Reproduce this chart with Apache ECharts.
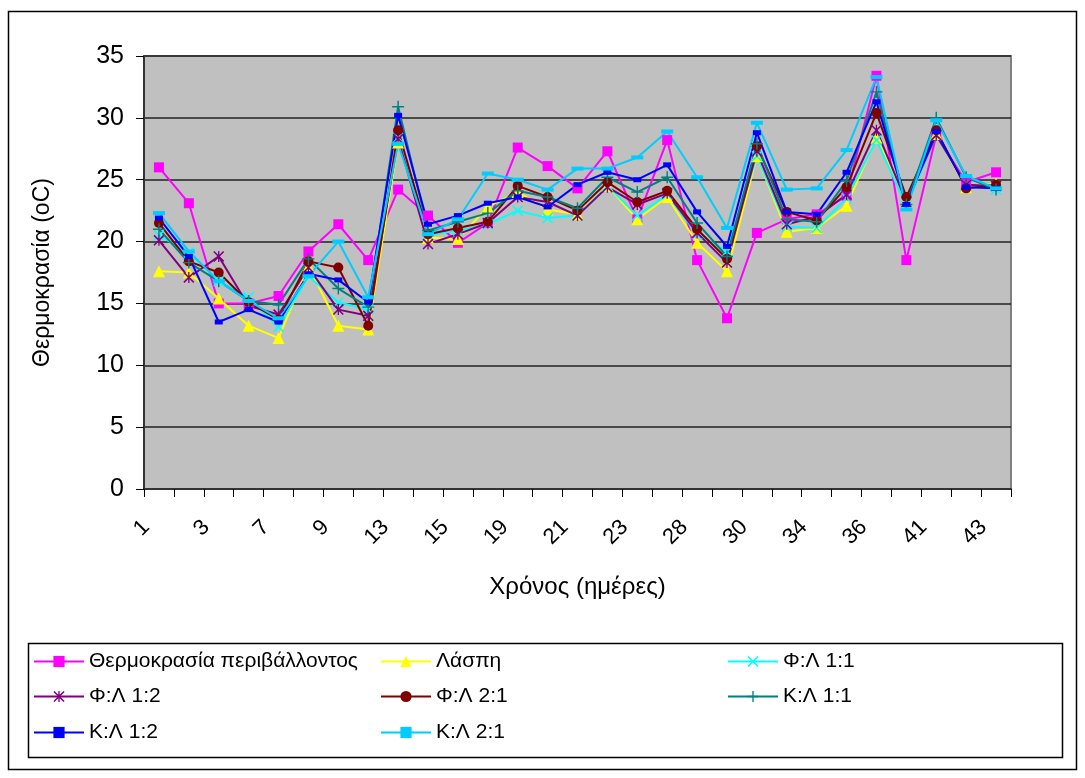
<!DOCTYPE html>
<html>
<head>
<meta charset="utf-8">
<script src="https://cdn.jsdelivr.net/npm/echarts@6.0.0/dist/echarts.min.js"></script>
<style>
  html, body { margin: 0; padding: 0; background: #fff; }
  #chart { width: 1085px; height: 778px; }
</style>
</head>
<body>
<div id="chart"></div>
<script>
// days (only every other one is labelled on the axis)
const days = ['1', '2', '3', '5', '7', '8', '9', '12', '13', '14', '15', '16', '19', '20', '21',
    '22', '23', '27', '28', '29', '30', '33', '34', '35', '36', '40', '41', '42', '43']

const ambient = [26.0, 23.1, 15.0, 15.0, 15.6, 19.2, 21.4, 18.5, 24.2, 22.1, 19.9, 21.5, 27.6, 26.1, 24.3,
    27.3, 21.8, 28.2, 18.5, 13.8, 20.7, 21.8, 22.2, 23.7, 33.4, 18.5, 28.6, 24.8, 25.6]
const sludge = [17.6, 17.5, 15.4, 13.2, 12.2, 18.0, 13.2, 12.9, 28.0, 20.3, 20.2, 22.8, 24.0, 22.6, 22.2,
    24.5, 21.8, 23.6, 19.9, 17.6, 26.9, 20.8, 21.1, 22.9, 28.4, 23.2, 28.7, 24.4, 24.7]
const fl11 = [20.5, 19.1, 16.8, 15.5, 13.1, 17.2, 15.1, 14.5, 28.4, 20.5, 20.9, 21.4, 22.5, 21.9, 22.1,
    24.5, 22.1, 23.8, 20.6, 19.2, 26.9, 21.2, 21.1, 23.5, 28.2, 22.9, 28.6, 24.6, 24.2]
const fl12 = [20.1, 17.1, 18.8, 14.8, 14.1, 17.9, 14.5, 14.0, 28.3, 19.8, 20.6, 21.5, 23.6, 23.2, 22.1,
    24.4, 23.0, 23.9, 20.7, 18.3, 27.3, 21.4, 22.0, 23.8, 29.0, 23.2, 28.6, 24.6, 24.5]
const fl21 = [21.5, 18.4, 17.5, 15.1, 13.7, 18.4, 17.9, 13.2, 29.0, 20.6, 21.1, 21.6, 24.5, 23.6, 22.5,
    24.8, 23.2, 24.1, 21.0, 18.6, 27.7, 22.4, 21.7, 24.4, 30.4, 23.6, 29.0, 24.3, 24.6]
const kl11 = [21.0, 18.3, 16.8, 15.2, 14.9, 18.6, 16.2, 14.7, 30.9, 20.9, 21.6, 22.3, 24.1, 23.6, 22.7,
    25.2, 24.0, 25.2, 21.5, 18.8, 27.9, 21.8, 21.6, 24.9, 32.1, 23.0, 30.0, 25.2, 24.2]
const kl12 = [21.9, 18.8, 13.5, 14.5, 13.5, 17.4, 16.9, 15.1, 30.2, 21.4, 22.1, 23.1, 23.6, 22.8, 24.6,
    25.6, 25.0, 26.2, 22.4, 19.6, 28.8, 22.4, 22.2, 25.6, 31.3, 23.0, 28.9, 24.4, 24.3]
const kl21 = [22.3, 19.2, 16.8, 15.2, 13.8, 17.2, 20.0, 15.5, 27.9, 20.6, 21.8, 25.5, 25.0, 24.2, 25.9,
    25.9, 26.8, 28.9, 25.2, 21.1, 29.6, 24.2, 24.3, 27.4, 33.3, 22.6, 29.8, 25.3, 24.3]

const FONT = "'Liberation Sans', Arial, sans-serif"

// marker shapes that echarts does not ship
const crossX = 'path://M0,1L1,0L10,9L9,10Z M9,0L10,1L1,10L0,9Z'
const star = 'path://M0,1L1,0L10,9L9,10Z M9,0L10,1L1,10L0,9Z M4.4,0H5.6V10H4.4Z'
const plus = 'path://M4.4,0H5.6V10H4.4Z M0,4.4H10V5.6H0Z'

const seriesDefs = [
    { name: 'Θερμοκρασία περιβάλλοντος', data: ambient, color: '#FF00FF', symbol: 'rect', size: 10 },
    { name: 'Λάσπη', data: sludge, color: '#FFFF00', symbol: 'triangle', size: 12 },
    { name: 'Φ:Λ 1:1', data: fl11, color: '#00FFFF', symbol: crossX, size: 11 },
    { name: 'Φ:Λ 1:2', data: fl12, color: '#800080', symbol: star, size: 11 },
    { name: 'Φ:Λ 2:1', data: fl21, color: '#800000', symbol: 'circle', size: 10 },
    { name: 'Κ:Λ 1:1', data: kl11, color: '#008080', symbol: plus, size: 12 },
    { name: 'Κ:Λ 1:2', data: kl12, color: '#0000FF', symbol: 'rect', size: [8, 5] },
    { name: 'Κ:Λ 2:1', data: kl21, color: '#00CCFF', symbol: 'rect', size: [12, 4] },
]

// legend laid out in three columns, three rows
const legendCols = [33, 380, 727]
const legendRows = [651, 686, 722]

const legends = seriesDefs.map((s, i) => ({
    data: [s.name],
    left: legendCols[i % 3],
    top: legendRows[Math.floor(i / 3)],
    orient: 'horizontal',
    padding: 0,
    itemWidth: 50,
    itemHeight: 14,
    selectedMode: false,
    textStyle: { fontFamily: FONT, fontSize: 21, color: '#000' },
}))

const chart = echarts.init(document.getElementById('chart'), null, { renderer: 'canvas' })

chart.setOption({
    animation: false,
    backgroundColor: '#fff',
    textStyle: { fontFamily: FONT },
    graphic: [
        {
            type: 'rect',
            shape: { x: 8.5, y: 11.5, width: 1068, height: 758 },
            style: { fill: 'none', stroke: '#000', lineWidth: 1.5 },
            silent: true,
        },
        {
            type: 'rect',
            shape: { x: 28.5, y: 643.5, width: 1034, height: 114 },
            style: { fill: 'none', stroke: '#000', lineWidth: 1.5 },
            silent: true,
        },
    ],
    legend: legends,
    grid: {
        left: 144,
        right: 74,
        top: 56,
        bottom: 289,
        show: true,
        backgroundColor: '#C0C0C0',
        borderColor: '#808080',
        borderWidth: 2,
    },
    xAxis: {
        type: 'category',
        data: days,
        boundaryGap: true,
        name: 'Χρόνος (ημέρες)',
        nameLocation: 'middle',
        nameGap: 86,
        nameTextStyle: { fontSize: 24, color: '#000', fontFamily: FONT },
        axisLine: { show: true, lineStyle: { color: '#333', width: 2 } },
        axisTick: { show: true, interval: 0, length: 8, lineStyle: { color: '#000' } },
        axisLabel: {
            interval: 1,
            rotate: 45,
            margin: 22,
            padding: [0, 18, 0, 0],
            fontSize: 22,
            color: '#000',
            fontFamily: FONT,
        },
        splitLine: { show: false },
    },
    yAxis: {
        type: 'value',
        min: 0,
        max: 35,
        interval: 5,
        name: 'Θερμοκρασία (oC)',
        nameLocation: 'middle',
        nameRotate: 90,
        nameGap: 90,
        nameTextStyle: { fontSize: 23, color: '#000', fontFamily: FONT },
        axisLine: { show: true, lineStyle: { color: '#333', width: 2 } },
        axisTick: { show: true, length: 8, lineStyle: { color: '#000' } },
        axisLabel: { margin: 20, fontSize: 25, color: '#000', fontFamily: FONT },
        splitLine: { show: true, lineStyle: { color: '#222', width: 1.5 } },
    },
    series: seriesDefs.map((s) => ({
        name: s.name,
        type: 'line',
        data: s.data,
        symbol: s.symbol,
        symbolSize: s.size,
        showAllSymbol: true,
        lineStyle: { width: 2, color: s.color },
        itemStyle: { color: s.color },
        emphasis: { disabled: true },
    })),
})
</script>
</body>
</html>
